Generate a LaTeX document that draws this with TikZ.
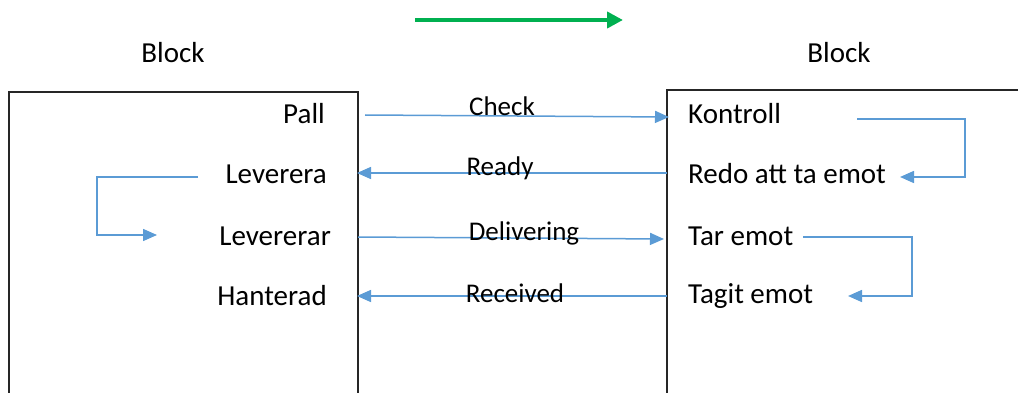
\documentclass[tikz,border=0pt]{standalone}
\usepackage{fontspec}
\setmainfont{Carlito}
\usetikzlibrary{arrows.meta}
\definecolor{flowblue}{RGB}{91,155,213}
\definecolor{flowgreen}{RGB}{0,176,80}
\tikzset{
  lbl/.style={inner sep=0pt, font=\fontsize{29}{32}\selectfont},
  msg/.style={inner sep=0pt, font=\fontsize{27}{30}\selectfont},
  wire/.style={draw=flowblue, line width=1.5pt, -{Triangle[length=14pt,width=12pt]}},
  frame/.style={draw=black!85, line width=1.3pt},
}
\begin{document}
\begin{tikzpicture}[x=1pt,y=-1pt]
\useasboundingbox (0,0) rectangle (1018,393);

% direction arrow on top
\coordinate (gA) at (415,20);
\coordinate (gB) at (623,20);
\draw[draw=flowgreen, line width=4pt, -{Triangle[length=16pt,width=16pt]}] (gA) -- (gB);

% the two blocks, open towards the bottom and right edge
\draw[frame] (9,393) -- (9,92) -- (358,92) -- (358,393);
\draw[frame] (667,393) -- (667,90) -- (1018,90);
\node[lbl] (blockL) at (173,53) {Block};
\node[lbl] (blockR) at (839,53) {Block};

% states of the left block
\node[lbl, anchor=east] (pall) at (325,114) {Pall};
\node[lbl, anchor=east] (lev)  at (327,174) {Leverera};
\node[lbl, anchor=east] (levs) at (331,236) {Levererar};
\node[lbl, anchor=east] (hant) at (327,296) {Hanterad};

% states of the right block
\node[lbl, anchor=west] (kont)  at (688,114) {Kontroll};
\node[lbl, anchor=west] (redo)  at (688,174) {Redo att ta emot};
\node[lbl, anchor=west] (tar)   at (688,236) {Tar emot};
\node[lbl, anchor=west] (tagit) at (688,296) {Tagit emot};

% message end points on the block edges
\coordinate (cA) at (365,115);  \coordinate (cB) at (669,117);
\coordinate (rA) at (667,173);  \coordinate (rB) at (357,173);
\coordinate (dA) at (358,237);  \coordinate (dB) at (664,239);
\coordinate (vA) at (667,296);  \coordinate (vB) at (357,296);

\draw[wire] (cA) -- (cB);
\draw[wire] (rA) -- (rB);
\draw[wire] (dA) -- (dB);
\draw[wire] (vA) -- (vB);

\node[msg] (check) at (502,106) {Check};
\node[msg] (ready) at (500,168) {Ready};
\node[msg] (deliv) at (524,233) {Delivering};
\node[msg] (recv)  at (515,293) {Received};

% internal transitions
\coordinate (l1) at (198,177); \coordinate (l2) at (157,235);
\draw[wire] (l1) -- (97,177) |- (l2);

\coordinate (k1) at (857,119); \coordinate (k2) at (900,177);
\draw[wire] (k1) -- (965,119) |- (k2);

\coordinate (t1) at (803,237); \coordinate (t2) at (848,296);
\draw[wire] (t1) -- (912,237) |- (t2);
\end{tikzpicture}
\end{document}
